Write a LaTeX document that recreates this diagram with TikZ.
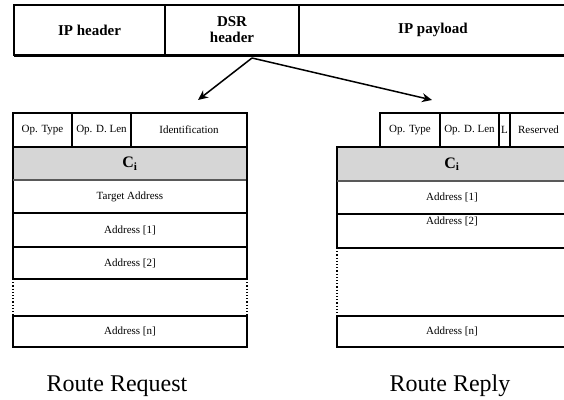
\documentclass[tikz,border=0pt]{standalone}
\usepackage{fontspec}
\setmainfont{Liberation Serif}
\usetikzlibrary{positioning,arrows.meta}

\begin{document}
\begin{tikzpicture}[x=1pt, y=-1pt,
	field/.style={rectangle, draw=black, line width=1.3pt, inner sep=0pt, outer sep=0pt, anchor=north west, align=center},
	hdr/.style={field, minimum height=50pt, font=\fontsize{15}{16}\selectfont\bfseries},
	small/.style={field, font=\fontsize{11}{12}\selectfont},
	shaded/.style={field, fill=black!16, font=\fontsize{16}{17}\selectfont\bfseries},
	heavy/.style={line width=2.8pt},
	gap/.style={line width=1.2pt, dotted},
	link/.style={line width=1.5pt, -{Stealth[length=10pt,width=9pt]}},
	caption/.style={font=\fontsize{24}{25}\selectfont}]
	\useasboundingbox (0,0) rectangle (564,399);
	\node[hdr, minimum width=151pt] (iph) at (14,5) {IP header};
	\node[hdr, minimum width=134pt, right=0pt of iph] (dsr) {DSR\\header};
	\node[hdr, minimum width=268pt, right=0pt of dsr] (ipp) {IP payload};
	\draw[heavy] ([yshift=-1pt]iph.south west) -- ([yshift=-1pt]ipp.south east);
	\coordinate (split) at ([xshift=20pt,yshift=-3pt]dsr.south);
	\coordinate (rqtip) at (198,100);
	\coordinate (rptip) at (432,100);
	\draw[link] (split) -- (rqtip);
	\draw[link] (split) -- (rptip);
	% route request
	\node[small, minimum width=59pt, minimum height=34pt] (rqtype) at (13,113) {Op. Type};
	\node[small, minimum width=59pt, minimum height=34pt, right=0pt of rqtype] (rqlen) {Op. D. Len};
	\node[small, minimum width=116pt, minimum height=34pt, right=0pt of rqlen] (rqid) {Identification};
	\node[shaded, minimum width=234pt, minimum height=33pt] (rqci) at (rqtype.south west) {C\textsubscript{i}};
	\node[small, minimum width=234pt, minimum height=33pt] (rqtgt) at (rqci.south west) {Target Address};
	\node[small, minimum width=234pt, minimum height=34pt] (rqa1) at (rqtgt.south west) {Address [1]};
	\node[small, minimum width=234pt, minimum height=32pt] (rqa2) at (rqa1.south west) {Address [2]};
	\node[small, minimum width=234pt, minimum height=31pt] (rqan) at ([yshift=-37pt]rqa2.south west) {Address [n]};
	\draw[gap] (rqa2.south west) -- (rqan.north west);
	\draw[gap] (rqa2.south east) -- (rqan.north east);
	\draw[heavy, black!65] (rqci.south west) -- (rqci.south east);
	\draw[heavy] (rqa2.south west) -- (rqa2.south east);
	\draw[heavy] (rqan.south west) -- (rqan.south east);
	\draw[line width=2.4pt] (rqid.north east) -- (rqa2.south east);
	\draw[line width=2.4pt] (rqan.north east) -- (rqan.south east);
	\node[caption] (rqcap) at (117,386) {Route Request};
	% route reply
	\node[small, minimum width=60pt, minimum height=34pt] (rptype) at (380,113) {Op. Type};
	\node[small, minimum width=59pt, minimum height=34pt, right=0pt of rptype] (rplen) {Op. D. Len};
	\node[small, minimum width=11pt, minimum height=34pt, right=0pt of rplen] (rpl) {L};
	\node[small, minimum width=57pt, minimum height=34pt, right=0pt of rpl] (rpres) {Reserved};
	\node[shaded, minimum width=230pt, minimum height=34pt] (rpci) at (337,147) {C\textsubscript{i}};
	\node[small, minimum width=230pt, minimum height=33pt] (rpa1) at (rpci.south west) {Address [1]};
	\node[small, minimum width=230pt, minimum height=34pt,
		label={[font=\fontsize{11}{12}\selectfont, anchor=north, inner sep=3pt]north:Address [2]}] (rpa2) at (rpa1.south west) {};
	\node[small, minimum width=230pt, minimum height=31pt] (rpan) at (337,316) {Address [n]};
	\draw[gap] (rpa2.south west) -- (rpan.north west);
	\draw[heavy, black!65] (rpci.south west) -- (rpci.south east);
	\draw[heavy] (rpa2.south west) -- (rpa2.south east);
	\draw[heavy] (rpan.south west) -- (rpan.south east);
	\node[caption] (rpcap) at (450,386) {Route Reply};
\end{tikzpicture}
\end{document}
